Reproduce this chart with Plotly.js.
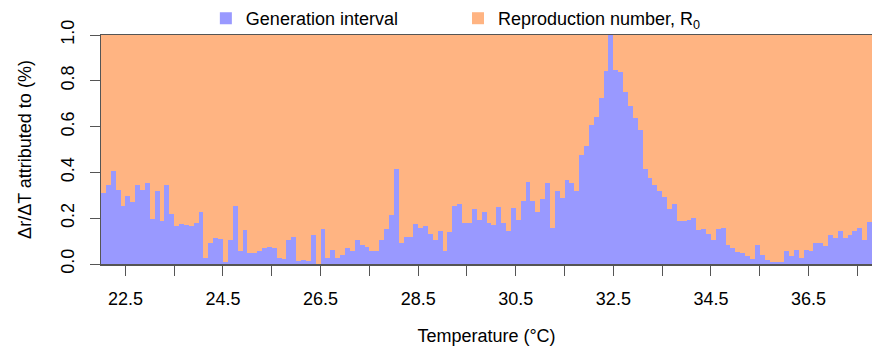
<!DOCTYPE html>
<html>
<head>
<meta charset="utf-8">
<script src="https://cdn.plot.ly/plotly-3.0.1.min.js"></script>
<style>
  html, body { margin: 0; padding: 0; background: #ffffff; }
  #chart { width: 872px; height: 348px; }
</style>
</head>
<body>
<div id="chart"></div>
<script>
// Temperature bins (left edge of each 0.1 °C bin)
const temperatureBins = [
  22.0,22.1,22.2,22.3,22.4,22.5,22.6,22.7,22.8,22.9,
  23.0,23.1,23.2,23.3,23.4,23.5,23.6,23.7,23.8,23.9,
  24.0,24.1,24.2,24.3,24.4,24.5,24.6,24.7,24.8,24.9,
  25.0,25.1,25.2,25.3,25.4,25.5,25.6,25.7,25.8,25.9,
  26.0,26.1,26.2,26.3,26.4,26.5,26.6,26.7,26.8,26.9,
  27.0,27.1,27.2,27.3,27.4,27.5,27.6,27.7,27.8,27.9,
  28.0,28.1,28.2,28.3,28.4,28.5,28.6,28.7,28.8,28.9,
  29.0,29.1,29.2,29.3,29.4,29.5,29.6,29.7,29.8,29.9,
  30.0,30.1,30.2,30.3,30.4,30.5,30.6,30.7,30.8,30.9,
  31.0,31.1,31.2,31.3,31.4,31.5,31.6,31.7,31.8,31.9,
  32.0,32.1,32.2,32.3,32.4,32.5,32.6,32.7,32.8,32.9,
  33.0,33.1,33.2,33.3,33.4,33.5,33.6,33.7,33.8,33.9,
  34.0,34.1,34.2,34.3,34.4,34.5,34.6,34.7,34.8,34.9,
  35.0,35.1,35.2,35.3,35.4,35.5,35.6,35.7,35.8,35.9,
  36.0,36.1,36.2,36.3,36.4,36.5,36.6,36.7,36.8,36.9,
  37.0,37.1,37.2,37.3,37.4,37.5,37.6,37.7
];

// Share attributed to the generation interval
const generationInterval = [
  0.311,0.343,0.404,0.322,0.254,0.299,0.270,0.343,0.322,0.355,
  0.197,0.317,0.189,0.346,0.218,0.168,0.174,0.171,0.165,0.177,
  0.229,0.025,0.090,0.113,0.110,0.008,0.107,0.252,0.058,0.148,
  0.049,0.046,0.055,0.072,0.075,0.069,0.028,0.023,0.104,0.119,
  0.011,0.017,0.014,0.127,0.002,0.151,0.028,0.063,0.025,0.040,
  0.072,0.058,0.107,0.081,0.075,0.055,0.055,0.104,0.154,0.212,
  0.413,0.093,0.116,0.119,0.174,0.159,0.165,0.133,0.104,0.142,
  0.055,0.139,0.252,0.261,0.177,0.177,0.241,0.194,0.229,0.180,
  0.171,0.250,0.180,0.142,0.244,0.191,0.276,0.360,0.273,0.229,
  0.282,0.355,0.156,0.320,0.288,0.366,0.352,0.317,0.474,0.517,
  0.605,0.643,0.727,0.841,1.000,0.846,0.838,0.753,0.692,0.637,
  0.587,0.413,0.375,0.343,0.317,0.293,0.241,0.261,0.186,0.186,
  0.191,0.200,0.148,0.151,0.133,0.107,0.151,0.156,0.081,0.069,
  0.052,0.049,0.034,0.023,0.084,0.040,0.017,0.008,0.008,0.008,
  0.058,0.037,0.063,0.025,0.063,0.055,0.090,0.090,0.078,0.127,
  0.113,0.142,0.113,0.127,0.142,0.156,0.107,0.183
];

// Share attributed to the reproduction number R0
const reproductionNumber = [
  0.689,0.657,0.596,0.678,0.746,0.701,0.730,0.657,0.678,0.645,
  0.803,0.683,0.811,0.654,0.782,0.832,0.826,0.829,0.835,0.823,
  0.771,0.975,0.910,0.887,0.890,0.992,0.893,0.748,0.942,0.852,
  0.951,0.954,0.945,0.928,0.925,0.931,0.972,0.977,0.896,0.881,
  0.989,0.983,0.986,0.873,0.998,0.849,0.972,0.937,0.975,0.960,
  0.928,0.942,0.893,0.919,0.925,0.945,0.945,0.896,0.846,0.788,
  0.587,0.907,0.884,0.881,0.826,0.841,0.835,0.867,0.896,0.858,
  0.945,0.861,0.748,0.739,0.823,0.823,0.759,0.806,0.771,0.820,
  0.829,0.750,0.820,0.858,0.756,0.809,0.724,0.640,0.727,0.771,
  0.718,0.645,0.844,0.680,0.712,0.634,0.648,0.683,0.526,0.483,
  0.395,0.357,0.273,0.159,0.000,0.154,0.162,0.247,0.308,0.363,
  0.413,0.587,0.625,0.657,0.683,0.707,0.759,0.739,0.814,0.814,
  0.809,0.800,0.852,0.849,0.867,0.893,0.849,0.844,0.919,0.931,
  0.948,0.951,0.966,0.977,0.916,0.960,0.983,0.992,0.992,0.992,
  0.942,0.963,0.937,0.975,0.937,0.945,0.910,0.910,0.922,0.873,
  0.887,0.858,0.887,0.873,0.858,0.844,0.893,0.817
];

// Axis ticks (labelled majors; unlabelled minors every 1 °C)
const xTickVals = [22.5,24.5,26.5,28.5,30.5,32.5,34.5,36.5];
const xTickText = ["22.5","24.5","26.5","28.5","30.5","32.5","34.5","36.5"];
const yTickVals = [0.0,0.2,0.4,0.6,0.8,1.0];
const yTickText = ["0.0","0.2","0.4","0.6","0.8","1.0"];

const seriesNames = ["Generation interval", "Reproduction number, R<sub>0</sub>"];

const FONT = '"Liberation Sans", Arial, Helvetica, sans-serif';
const AXIS_COLOR = '#555555';

const traces = [
  {
    type: 'bar',
    name: seriesNames[0],
    x: temperatureBins,
    y: generationInterval,
    width: 0.1,
    offset: 0,
    marker: { color: '#9999ff', line: { width: 0 } },
    legend: 'legend',
    hoverinfo: 'x+y+name'
  },
  {
    type: 'bar',
    name: seriesNames[1],
    x: temperatureBins,
    y: reproductionNumber,
    width: 0.1,
    offset: 0,
    marker: { color: '#ffb482', line: { width: 0 } },
    legend: 'legend2',
    hoverinfo: 'x+y+name'
  }
];

const layout = {
  width: 872,
  height: 348,
  margin: { l: 101, r: 0, t: 35, b: 84, pad: 0 },
  paper_bgcolor: '#ffffff',
  plot_bgcolor: '#ffffff',
  font: { family: FONT, size: 18, color: '#000000' },
  barmode: 'stack',
  bargap: 0,
  xaxis: {
    range: [22.0, 37.8],
    tickmode: 'array',
    tickvals: xTickVals,
    ticktext: xTickText,
    ticks: 'outside',
    ticklen: 10,
    tickwidth: 1,
    tickcolor: AXIS_COLOR,
    minor: { ticks: 'outside', ticklen: 10, tickwidth: 1, tickcolor: AXIS_COLOR, tick0: 22.5, dtick: 1, showgrid: false },
    showline: true,
    linecolor: AXIS_COLOR,
    linewidth: 1.5,
    mirror: true,
    showgrid: false,
    zeroline: false,
    tickfont: { family: FONT, size: 18, color: '#000000' },
    ticklabelstandoff: 8,
    title: { text: 'Temperature (°C)', font: { family: FONT, size: 18, color: '#000000' }, standoff: 21 }
  },
  yaxis: {
    range: [0, 1],
    tickmode: 'array',
    tickvals: yTickVals,
    ticktext: yTickText,
    tickangle: -90,
    ticks: 'outside',
    ticklen: 10,
    tickwidth: 1,
    tickcolor: AXIS_COLOR,
    showline: true,
    linecolor: AXIS_COLOR,
    linewidth: 1.5,
    mirror: false,
    showgrid: false,
    zeroline: false,
    tickfont: { family: FONT, size: 18, color: '#000000' },
    ticklabelstandoff: 8,
    title: { text: 'Δr/ΔT attributed to (%)', font: { family: FONT, size: 18, color: '#000000' }, standoff: 22 }
  },
  legend: {
    x: 0.136, y: 1.072, xanchor: 'left', yanchor: 'middle',
    orientation: 'h',
    bgcolor: 'rgba(0,0,0,0)',
    borderwidth: 0,
    font: { family: FONT, size: 18, color: '#000000' }
  },
  legend2: {
    x: 0.463, y: 1.072, xanchor: 'left', yanchor: 'middle',
    orientation: 'h',
    bgcolor: 'rgba(0,0,0,0)',
    borderwidth: 0,
    font: { family: FONT, size: 18, color: '#000000' }
  },
  showlegend: true
};

Plotly.newPlot('chart', traces, layout, { displayModeBar: false, staticPlot: true, responsive: false });
</script>
</body>
</html>
